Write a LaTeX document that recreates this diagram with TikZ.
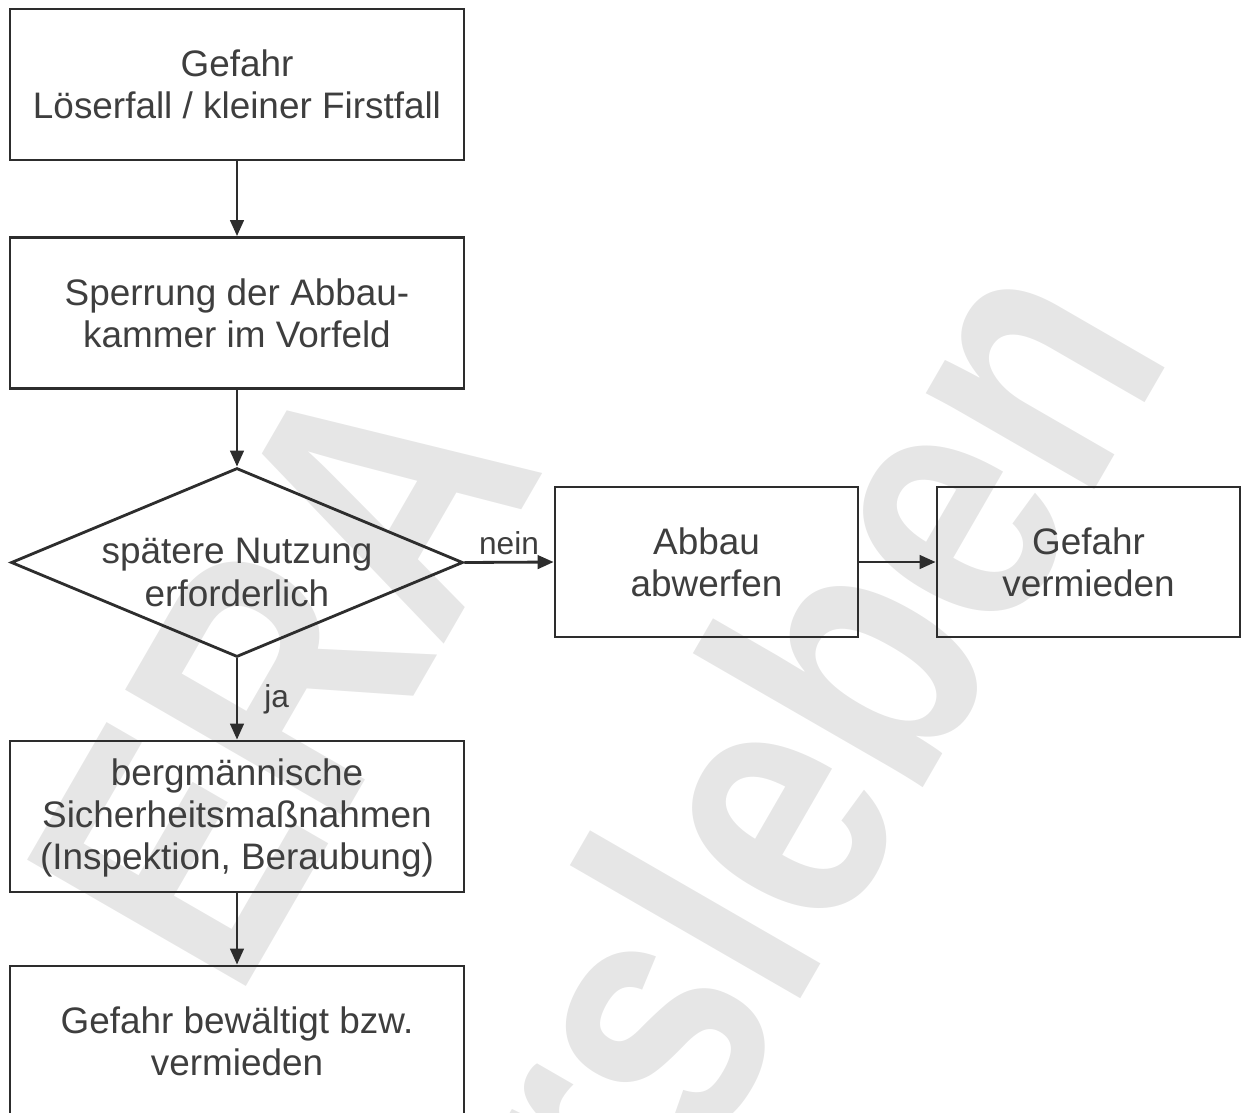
\documentclass[tikz,border=0pt]{standalone}
\usepackage{fontspec}
\setmainfont{Liberation Sans}
\usetikzlibrary{shapes.geometric, arrows.meta}

\definecolor{linegray}{RGB}{45,45,45}
\definecolor{textgray}{RGB}{62,62,62}
\definecolor{markgray}{RGB}{230,230,230}

\begin{document}
\begin{tikzpicture}
	[x=0.02cm, y=-0.02cm, line width=1.6pt,
	>={Triangle[length=0.32cm, width=0.27cm]},
	box/.style={draw=linegray, rectangle, minimum width=9.08cm, minimum height=3.02cm, align=center, text=textgray, font=\fontsize{21}{24}\selectfont},
	sidebox/.style={box, minimum width=6.06cm, minimum height=3cm},
	decision/.style={draw=linegray, diamond, minimum width=9.04cm, minimum height=3.78cm, inner sep=0pt},
	flow/.style={->, draw=linegray, fill=linegray},
	answer/.style={text=textgray, font=\fontsize{18}{22}\selectfont},
	wmtext/.style={rotate=60, xscale=0.8, text=markgray, inner sep=0pt, font=\fontsize{209}{250}\selectfont\bfseries}]

	\useasboundingbox (0,0) rectangle (1242,1113);
	\clip (0,0) rectangle (1242,1113);

	%watermark
	\node[wmtext, anchor=base] (wmera) at (392,735) {ERA};
	\node[wmtext, anchor=base] (wmort) at (807,988) {Morsleben};

	\node[box] (gefahr) at (237,84.5) {Gefahr\\Löserfall / kleiner Firstfall};
	\node[box] (sperrung) at (237,313) {Sperrung der Abbau-\\kammer im Vorfeld};
	\node[decision, label={[answer, font=\fontsize{21}{24}\selectfont, align=center, yshift=-0.2cm]center:spätere Nutzung\\erforderlich}] (nutzung) at (237,562.5) {};
	\node[sidebox] (abbau) at (706.5,562) {Abbau\\abwerfen};
	\node[sidebox] (vermieden) at (1088.5,562) {Gefahr\\vermieden};
	\node[box, text depth=0.1cm] (massnahmen) at (237,816.5) {bergmännische\\Sicherheitsmaßnahmen\\(Inspektion, Beraubung)};
	\node[box] (bewaeltigt) at (237,1041.5) {Gefahr bewältigt bzw.\\vermieden};

	\draw[flow] (gefahr) -- (sperrung);
	\draw[flow] (sperrung) -- (nutzung.north);
	\draw[flow] (nutzung.east) -- node[answer, above] {nein} (abbau.west);
	\draw[flow] (abbau) -- (vermieden);
	\draw[flow] (nutzung.south) -- node[answer, right, xshift=0.4cm] {ja} (massnahmen.north);
	\draw[flow] (massnahmen) -- (bewaeltigt);

\end{tikzpicture}
\end{document}
